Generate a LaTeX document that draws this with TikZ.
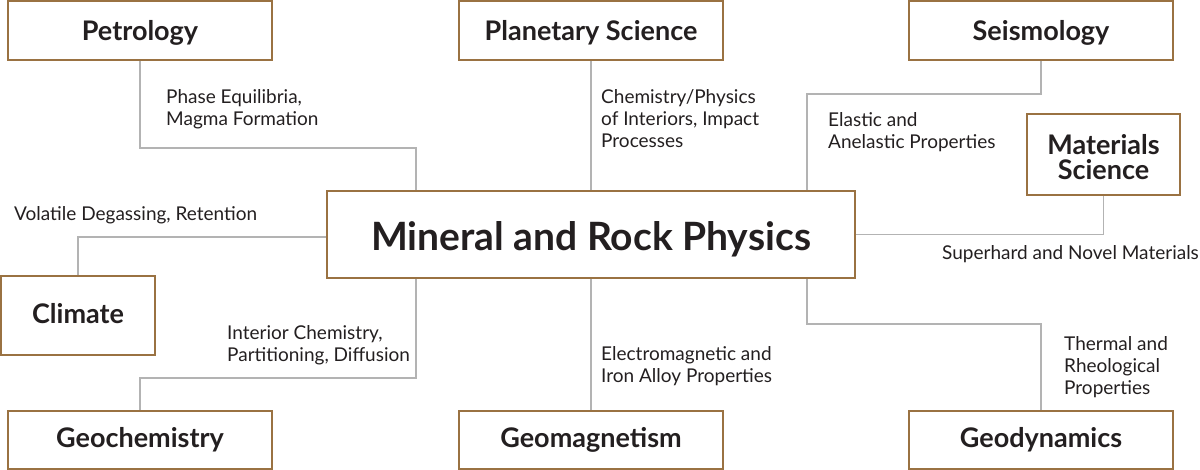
\documentclass[tikz,border=0pt]{standalone}
\usepackage{fontspec}
\setmainfont{Lato}
\definecolor{boxc}{HTML}{9A7242}
\definecolor{linec}{HTML}{B3B3B3}
\definecolor{txt}{HTML}{231F20}
\begin{document}
\begin{tikzpicture}[x=1pt,y=-1pt,
 box/.style={draw=boxc,line width=1.6pt,fill=white,inner sep=0pt,text=txt,font=\bfseries\fontsize{27}{25.5}\selectfont,align=center,text height=19.4pt,text depth=0pt},
 lowbox/.style={box,text height=15.4pt},
 lab/.style={text=txt,inner sep=0pt,anchor=west,align=left,font=\fontsize{19}{22}\selectfont},
 conn/.style={draw=linec,line width=1.5pt}]
\useasboundingbox (0,0) rectangle (1200,470);
% boxes
\node[box,minimum width=264pt,minimum height=59pt] (petro) at (140,30.5) {Petrology};
\node[box,minimum width=264pt,minimum height=59pt] (plan) at (591,30.5) {Planetary Science};
\node[box,minimum width=264pt,minimum height=59pt] (seis) at (1041,30.5) {Seismology};
\node[box,minimum width=153pt,minimum height=81pt,text height=51pt] (mat) at (1103.5,154.5) {Materials\\Science};
\node[box,minimum width=528pt,minimum height=87pt,font=\bfseries\fontsize{39}{42}\selectfont,text height=33pt] (center) at (591,234.5) {Mineral and Rock Physics};
\node[box,minimum width=154pt,minimum height=79pt,text height=17pt] (clim) at (78,315.5) {Climate};
\node[lowbox,minimum width=264pt,minimum height=58pt] (geoc) at (140,440) {Geochemistry};
\node[lowbox,minimum width=264pt,minimum height=58pt] (geom) at (591,440) {Geomagnetism};
\node[lowbox,minimum width=264pt,minimum height=58pt] (geod) at (1041,440) {Geodynamics};
% labels
\node[lab] (l1) at (166,109) {Phase Equilibria,\\Magma Formation};
\node[lab] (l2) at (601,118.5) {Chemistry/Physics\\of Interiors, Impact\\Processes};
\node[lab] (l3) at (828,132) {Elastic and\\Anelastic Properties};
\node[lab] (l4) at (14,215) {Volatile Degassing, Retention};
\node[lab] (l5) at (942,254) {Superhard and Novel Materials};
\node[lab] (l6) at (227,345) {Interior Chemistry,\\Partitioning, Diffusion};
\node[lab] (l7) at (601,366.5) {Electromagnetic and\\Iron Alloy Properties};
\node[lab] (l8) at (1064,367) {Thermal and\\Rheological\\Properties};
% connectors
\draw[conn] (petro.south) -- ++(0,87) -| ([xshift=90pt]center.north west);
\draw[conn] (plan.south) -- (center.north);
\draw[conn] (seis.south) -- ++(0,33) -| ([xshift=-49pt]center.north east);
\draw[conn] (mat.south) |- (center.east);
\draw[conn] ([yshift=-2.5pt]center.west) -| (clim.north);
\draw[conn] ([xshift=90pt]center.south west) -- ++(0,99) -| (geoc.north);
\draw[conn] (center.south) -- (geom.north);
\draw[conn] ([xshift=-49pt]center.south east) -- ++(0,45) -| (geod.north);
\end{tikzpicture}
\end{document}
